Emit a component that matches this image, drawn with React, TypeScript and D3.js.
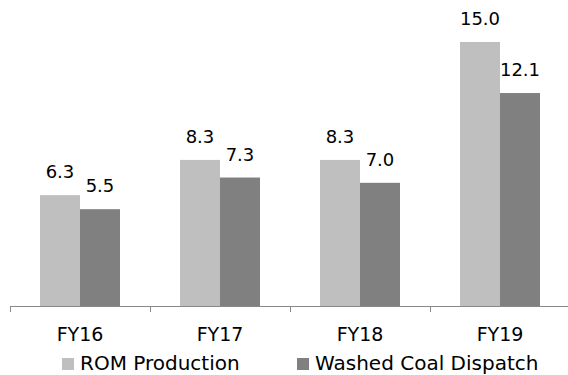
import React from "react";
import * as d3 from "d3";

const categories = ["FY16", "FY17", "FY18", "FY19"];
const seriesNames = ["ROM Production", "Washed Coal Dispatch"];
const romValues = [6.3, 8.3, 8.3, 15.0];
const washedValues = [5.5, 7.3, 7.0, 12.1];
const colors = ["#bfbfbf", "#808080"];

const W = 568;
const H = 375;
const FONT = "'DejaVu Sans', Verdana, sans-serif";

export default function App() {
  const x = d3.scaleBand<string>().domain(categories).range([10, 570]).padding(0);
  const y = d3.scaleLinear().domain([0, 16]).range([306, 24.4]);
  const inner = d3.scaleBand<number>().domain([0, 1]).range([0, 80]);
  const series = [romValues, washedValues];
  const bw = x.bandwidth();
  const ticks = categories.map((_, i) => 10 + i * bw).concat([570]);

  return (
    <svg width={W} height={H} style={{ position: "absolute", left: 0, top: 0, background: "#fff" }}>
      {series.map((vals, s) =>
        vals.map((v, i) => {
          const bx = (x(categories[i]) as number) + (bw - 80) / 2 + (inner(s) as number);
          return (
            <g key={`${s}-${i}`}>
              <rect x={bx} y={y(v)} width={inner.bandwidth()} height={y(0) - y(v)} fill={colors[s]} />
              <text
                x={bx + inner.bandwidth() / 2}
                y={y(v) - 17}
                textAnchor="middle"
                fontFamily={FONT}
                fontSize={18}
                fill="#000"
              >
                {v.toFixed(1)}
              </text>
            </g>
          );
        })
      )}
      <line x1={10} x2={570} y1={306.5} y2={306.5} stroke="#888" strokeWidth={1} />
      {ticks.map((t, i) => (
        <line key={i} x1={t + 0.5} x2={t + 0.5} y1={306} y2={312} stroke="#888" strokeWidth={1} />
      ))}
      {categories.map((c) => (
        <text
          key={c}
          x={(x(c) as number) + bw / 2}
          y={341}
          textAnchor="middle"
          fontFamily={FONT}
          fontSize={19}
          fill="#000"
        >
          {c}
        </text>
      ))}
      {seriesNames.map((n, i) => {
        const lx = i === 0 ? 62 : 297;
        return (
          <g key={n}>
            <rect x={lx} y={358} width={12} height={12} fill={colors[i]} />
            <text x={lx + 18} y={370} fontFamily={FONT} fontSize={20} fill="#000">
              {n}
            </text>
          </g>
        );
      })}
    </svg>
  );
}
